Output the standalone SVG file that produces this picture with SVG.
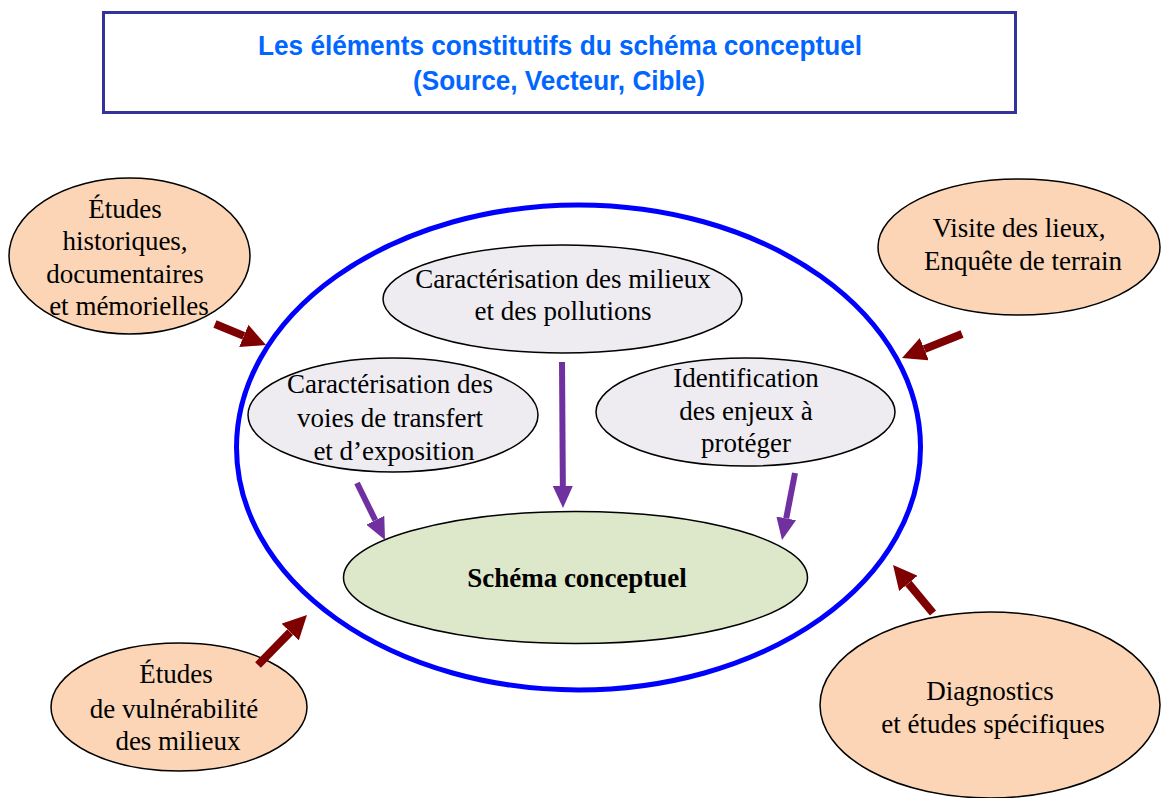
<svg xmlns="http://www.w3.org/2000/svg" width="1162" height="798" viewBox="0 0 1162 798">
<style>
.t{font-family:"Liberation Serif","Times New Roman",serif;font-size:27px;fill:#000;text-anchor:middle}
.title{font-family:"Liberation Sans",Arial,sans-serif;font-weight:bold;font-size:27px;fill:#0066FF;text-anchor:middle}
.peach{fill:#FBD5B5;stroke:#000;stroke-width:1.5}
.grey{fill:#EEECF1;stroke:#000;stroke-width:1.5}
.green{fill:#DDE7CA;stroke:#000;stroke-width:1.5}
.pa{stroke:#7030A0;stroke-width:6;fill:none}
.ra{stroke:#7F0000;stroke-width:8;fill:none}
</style>
<defs>
<marker id="mp" viewBox="0 -10 22 20" refX="0" refY="0" markerWidth="22" markerHeight="20" markerUnits="userSpaceOnUse" orient="auto"><path d="M0,-10 L22,0 L0,10 z" fill="#7030A0"/></marker>
<marker id="mr" viewBox="0 -12 24 24" refX="0" refY="0" markerWidth="24" markerHeight="24" markerUnits="userSpaceOnUse" orient="auto"><path d="M0,-12 L24,0 L0,12 z" fill="#7F0000"/></marker>
</defs>
<rect width="1162" height="798" fill="#fff"/>
<g id="title">
<rect x="103.5" y="12.5" width="912" height="100" fill="#fff" stroke="#333399" stroke-width="3"/>
<text class="title" x="560" y="55" textLength="604" lengthAdjust="spacingAndGlyphs">Les éléments constitutifs du schéma conceptuel</text>
<text class="title" x="559" y="90" textLength="292" lengthAdjust="spacingAndGlyphs">(Source, Vecteur, Cible)</text>
</g>
<g id="cadre">
<ellipse cx="578.5" cy="447.5" rx="342" ry="242.5" fill="none" stroke="#0000FF" stroke-width="5"/>
</g>
<g id="historiques">
<ellipse class="peach" cx="129.5" cy="256" rx="120.5" ry="78"/>
<text class="t" x="125" y="218">Études</text>
<text class="t" x="125" y="250">historiques,</text>
<text class="t" x="125" y="283">documentaires</text>
<text class="t" x="129" y="315">et mémorielles</text>
</g>
<g id="visite">
<ellipse class="peach" cx="1019" cy="247" rx="141" ry="68"/>
<text class="t" x="1019" y="237">Visite des lieux,</text>
<text class="t" x="1023" y="270">Enquête de terrain</text>
</g>
<g id="vulnerabilite">
<ellipse class="peach" cx="179" cy="707" rx="128" ry="64"/>
<text class="t" x="176" y="683">Études</text>
<text class="t" x="174" y="718">de vulnérabilité</text>
<text class="t" x="178" y="750">des milieux</text>
</g>
<g id="diagnostics">
<ellipse class="peach" cx="990" cy="705" rx="170" ry="93"/>
<text class="t" x="990" y="700">Diagnostics</text>
<text class="t" x="993" y="733">et études spécifiques</text>
</g>
<g id="milieux">
<ellipse class="grey" cx="562.5" cy="299" rx="179.5" ry="54"/>
<text class="t" x="563" y="288">Caractérisation des milieux</text>
<text class="t" x="563" y="320">et des pollutions</text>
</g>
<g id="voies">
<ellipse class="grey" cx="393" cy="415" rx="145" ry="57"/>
<text class="t" x="390" y="393">Caractérisation des</text>
<text class="t" x="390" y="427">voies de transfert</text>
<text class="t" x="394" y="460">et d’exposition</text>
</g>
<g id="enjeux">
<ellipse class="grey" cx="745.5" cy="412" rx="149.5" ry="54"/>
<text class="t" x="746" y="387">Identification</text>
<text class="t" x="746" y="420">des enjeux à</text>
<text class="t" x="746" y="452">protéger</text>
</g>
<g id="schema">
<ellipse class="green" cx="575.5" cy="577.5" rx="232" ry="66"/>
<text class="t" x="577" y="587" style="font-weight:bold">Schéma conceptuel</text>
</g>
<g id="connectors">
<line class="pa" x1="357" y1="483" x2="375.3" y2="520.2" marker-end="url(#mp)"/>
<line class="pa" x1="562" y1="362" x2="562.85" y2="486" marker-end="url(#mp)"/>
<line class="pa" x1="795" y1="473" x2="786.2" y2="518.4" marker-end="url(#mp)"/>
<line class="ra" x1="215" y1="324" x2="243.8" y2="335.9" marker-end="url(#mr)"/>
<line class="ra" x1="962" y1="334" x2="924.3" y2="349.1" marker-end="url(#mr)"/>
<line class="ra" x1="258" y1="665" x2="290.2" y2="632.1" marker-end="url(#mr)"/>
<line class="ra" x1="933" y1="613" x2="908.4" y2="583.4" marker-end="url(#mr)"/>
</g>
</svg>
